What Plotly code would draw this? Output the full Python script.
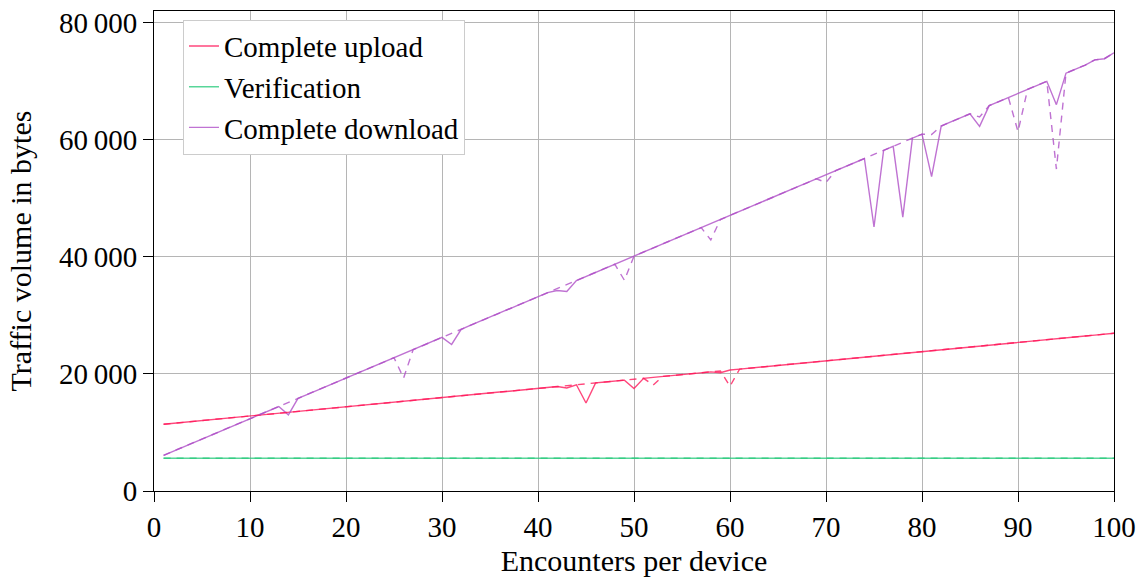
import plotly.graph_objects as go

encounters = list(range(1, 101))

upload_solid = [
    11400, 11560, 11710, 11870, 12030, 12190, 12340, 12500, 12660, 12810,
    12970, 13130, 13280, 13440, 13600, 13760, 13910, 14070, 14230, 14380,
    14540, 14700, 14860, 15010, 15170, 15330, 15480, 15640, 15800, 15960,
    16110, 16270, 16430, 16580, 16740, 16900, 17050, 17210, 17370, 17530,
    17680, 17840, 17600, 18150, 15030, 18470, 18620, 18780, 18940, 17500,
    19250, 19410, 19570, 19720, 19880, 20040, 20200, 20350, 20200, 20670,
    20820, 20980, 21140, 21290, 21450, 21610, 21770, 21920, 22080, 22240,
    22390, 22550, 22710, 22860, 23020, 23180, 23340, 23490, 23650, 23810,
    23960, 24120, 24280, 24440, 24590, 24750, 24910, 25060, 25220, 25380,
    25530, 25690, 25850, 26010, 26160, 26320, 26480, 26630, 26790, 26950,
]
upload_dashed = [
    11400, 11560, 11710, 11870, 12030, 12190, 12340, 12500, 12660, 12810,
    12970, 13130, 13280, 13440, 13600, 13760, 13910, 14070, 14230, 14380,
    14540, 14700, 14860, 15010, 15170, 15330, 15480, 15640, 15800, 15960,
    16110, 16270, 16430, 16580, 16740, 16900, 17050, 17210, 17370, 17530,
    17680, 17840, 18000, 18150, 18310, 18470, 18620, 18780, 18940, 19100,
    19250, 18100, 19570, 19720, 19880, 20040, 20200, 20350, 20510, 17900,
    20820, 20980, 21140, 21290, 21450, 21610, 21770, 21920, 22080, 22240,
    22390, 22550, 22710, 22860, 23020, 23180, 23340, 23490, 23650, 23810,
    23960, 24120, 24280, 24440, 24590, 24750, 24910, 25060, 25220, 25380,
    25530, 25690, 25850, 26010, 26160, 26320, 26480, 26630, 26790, 26950,
]
verification_solid = [
    5600, 5600, 5600, 5600, 5600, 5600, 5600, 5600, 5600, 5600,
    5600, 5600, 5600, 5600, 5600, 5600, 5600, 5600, 5600, 5600,
    5600, 5600, 5600, 5600, 5600, 5600, 5600, 5600, 5600, 5600,
    5600, 5600, 5600, 5600, 5600, 5600, 5600, 5600, 5600, 5600,
    5600, 5600, 5600, 5600, 5600, 5600, 5600, 5600, 5600, 5600,
    5600, 5600, 5600, 5600, 5600, 5600, 5600, 5600, 5600, 5600,
    5600, 5600, 5600, 5600, 5600, 5600, 5600, 5600, 5600, 5600,
    5600, 5600, 5600, 5600, 5600, 5600, 5600, 5600, 5600, 5600,
    5600, 5600, 5600, 5600, 5600, 5600, 5600, 5600, 5600, 5600,
    5600, 5600, 5600, 5600, 5600, 5600, 5600, 5600, 5600, 5600,
]
verification_dashed = list(verification_solid)
download_solid = [
    6100, 6790, 7490, 8180, 8880, 9570, 10270, 10960, 11660, 12350,
    13050, 13740, 14430, 13000, 15820, 16520, 17210, 17910, 18600, 19300,
    19990, 20680, 21380, 22070, 22770, 23460, 24160, 24850, 25550, 26240,
    25030, 27630, 28320, 29020, 29710, 30410, 31100, 31800, 32490, 33190,
    33880, 34240, 34070, 35960, 36660, 37350, 38050, 38740, 39440, 40130,
    40830, 41520, 42210, 42910, 43600, 44300, 44990, 45690, 46380, 47080,
    47770, 48460, 49160, 49850, 50550, 51240, 51940, 52630, 53330, 54020,
    54720, 55410, 56100, 56800, 45100, 58190, 58880, 46800, 60270, 60970,
    53700, 62350, 63050, 63740, 64440, 62300, 65830, 66520, 67220, 67910,
    68610, 69300, 69990, 66000, 71380, 72080, 72770, 73650, 73850, 74860,
]
download_dashed = [
    6100, 6790, 7490, 8180, 8880, 9570, 10270, 10960, 11660, 12350,
    13050, 13740, 14430, 15130, 15820, 16520, 17210, 17910, 18600, 19300,
    19990, 20680, 21380, 22070, 22770, 19300, 24160, 24850, 25550, 26240,
    26940, 27630, 28320, 29020, 29710, 30410, 31100, 31800, 32490, 33190,
    33880, 34570, 35270, 35960, 36660, 37350, 38050, 38740, 36000, 40130,
    40830, 41520, 42210, 42910, 43600, 44300, 44990, 42900, 46380, 47080,
    47770, 48460, 49160, 49850, 50550, 51240, 51940, 52630, 53330, 52700,
    54720, 55410, 56100, 56800, 57490, 58190, 58880, 59580, 60270, 60970,
    60900, 62350, 63050, 63740, 64440, 63900, 65830, 66520, 67220, 61400,
    68610, 69300, 69990, 55000, 71380, 72080, 72770, 73650, 73850, 74860,
]

x_ticks = [0, 10, 20, 30, 40, 50, 60, 70, 80, 90, 100]
y_ticks = [0, 20000, 40000, 60000, 80000]
y_tick_labels = ["0", "20\u2009000", "40\u2009000", "60\u2009000", "80\u2009000"]

c_up = "#ff1a5c"
c_ver = "#2ecc80"
c_down = "#b050c8"
FONT = "Liberation Serif"

fig = go.Figure()
series = [
    ("Complete upload", upload_solid, upload_dashed, c_up),
    ("Verification", verification_solid, verification_dashed, c_ver),
    ("Complete download", download_solid, download_dashed, c_down),
]
for name, solid, dashed, col in series:
    fig.add_trace(go.Scatter(x=encounters, y=solid, mode="lines", name=name,
                             line=dict(color=col, width=1.4), opacity=0.8))
for name, solid, dashed, col in series:
    fig.add_trace(go.Scatter(x=encounters, y=dashed, mode="lines", name=name + " (dashed)",
                             showlegend=False,
                             line=dict(color=col, width=1.4, dash="7px,6px"), opacity=0.8))

axis_common = dict(
    showgrid=True, gridcolor="#b5b5b5", gridwidth=1,
    showline=True, mirror=True, linecolor="black", linewidth=1,
    ticks="outside", ticklen=10, tickcolor="black", tickwidth=1,
    zeroline=False,
    tickfont=dict(family=FONT, size=29, color="black"),
)

fig.update_layout(
    width=1143, height=579,
    margin=dict(l=154, r=29, t=7, b=88),
    paper_bgcolor="white", plot_bgcolor="white",
    font=dict(family=FONT, size=29, color="black"),
    xaxis=dict(range=[0, 100], tickmode="array", tickvals=x_ticks,
               title=dict(text="Encounters per device", font=dict(family=FONT, size=30), standoff=8),
               **axis_common),
    yaxis=dict(range=[0, 82000], tickmode="array", tickvals=y_ticks, ticktext=y_tick_labels,
               title=dict(text="Traffic volume in bytes", font=dict(family=FONT, size=30), standoff=18),
               **axis_common),
    legend=dict(x=0.0302, y=0.982, xanchor="left", yanchor="top",
                bgcolor="white", bordercolor="#cccccc", borderwidth=1,
                font=dict(family=FONT, size=29, color="black"),
                tracegroupgap=0, itemwidth=30),
    showlegend=True,
)

fig.write_html("out.html")
